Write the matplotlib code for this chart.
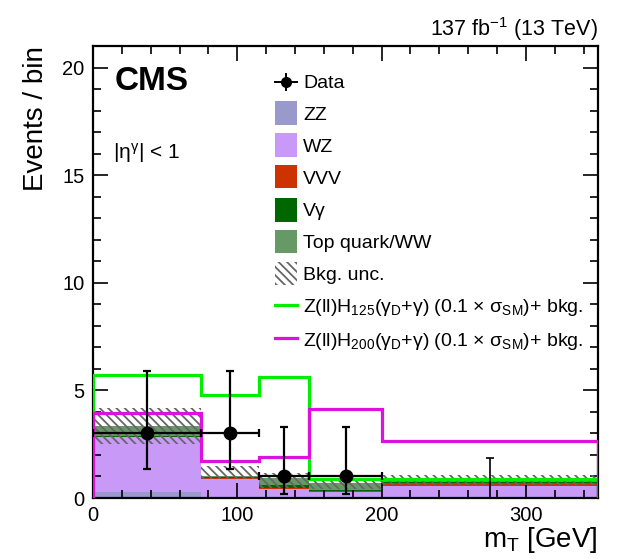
import matplotlib
matplotlib.use("Agg")
import matplotlib.pyplot as plt
import numpy as np
from matplotlib.patches import Rectangle
from matplotlib.lines import Line2D

plt.rcParams['font.family'] = ['Liberation Sans', 'DejaVu Sans']
plt.rcParams['mathtext.fontset'] = 'custom'
plt.rcParams['mathtext.rm'] = 'Liberation Sans'
plt.rcParams['mathtext.it'] = 'Liberation Sans:italic'
plt.rcParams['mathtext.bf'] = 'Liberation Sans:bold'
plt.rcParams['hatch.color'] = '#666666'
plt.rcParams['hatch.linewidth'] = 1.3

# ---- data ----
edges = [0, 75, 115, 150, 200, 350]
zz = [0.28, 0.03, 0.03, 0.03, 0.05]
wz = [2.54, 0.87, 0.37, 0.25, 0.50]
vvv = [0.02, 0.03, 0.08, 0.05, 0.15]
vgamma = [0.05, 0.03, 0.12, 0.02, 0.03]
topww = [0.46, 0.08, 0.35, 0.37, 0.05]
bkg_lo = [2.51, 0.87, 0.48, 0.40, 0.60]
bkg_hi = [4.19, 1.50, 1.18, 0.87, 1.05]
sig125 = [5.70, 4.80, 5.60, 0.90, 0.88]
sig200 = [3.95, 1.72, 1.90, 4.14, 2.63]
data = [3, 3, 1, 1, 0]
data_err_lo = [1.63, 1.63, 0.83, 0.83, 0.0]
data_err_hi = [2.92, 2.92, 2.30, 2.30, 1.84]

bkg_names = ['ZZ', 'WZ', 'VVV', 'V\u03b3', 'Top quark/WW']
bkg_colors = ['#9999cc', '#c999f7', '#cc3300', '#006600', '#669966']
bkg_vals = [zz, wz, vvv, vgamma, topww]

fig = plt.figure(figsize=(6.29, 5.59), dpi=100)
W, H = 629, 559
ax = fig.add_axes([93 / W, 1 - 498 / H, (598 - 93) / W, (498 - 46) / H])

edges_a = np.array(edges, float)
centers = 0.5 * (edges_a[:-1] + edges_a[1:])
halfw = 0.5 * (edges_a[1:] - edges_a[:-1])

bottom = np.zeros(len(zz))
for vals, col in zip(bkg_vals, bkg_colors):
    v = np.array(vals)
    ax.stairs(bottom + v, edges, baseline=bottom.copy(), fill=True,
              facecolor=col, edgecolor='none', zorder=1)
    bottom = bottom + v

HATCH = '\\\\\\\\'
ax.stairs(bkg_hi, edges, baseline=bkg_lo, fill=True, facecolor='none',
          edgecolor='#666666', linewidth=0, hatch=HATCH, zorder=2)

ax.stairs(sig125, edges, baseline=0, color='#00ee00', linewidth=2.3, zorder=3)
ax.stairs(sig200, edges, baseline=0, color='#dd11dd', linewidth=2.3, zorder=3)

d = np.array(data, float)
mask = d > 0
ax.errorbar(centers[mask], d[mask], xerr=halfw[mask],
            yerr=[np.array(data_err_lo)[mask], np.array(data_err_hi)[mask]],
            fmt='o', color='black', markersize=9, elinewidth=1.6,
            capsize=3, capthick=1.6, zorder=5)
# empty bins: only upper error bar
ax.errorbar(centers[~mask], d[~mask],
            yerr=[np.array(data_err_lo)[~mask], np.array(data_err_hi)[~mask]],
            fmt='none', ecolor='black', elinewidth=1.2, capsize=3,
            capthick=1.2, zorder=5)

ax.set_xlim(0, 350)
ax.set_ylim(0, 21)
ax.set_xticks([0, 100, 200, 300])
ax.set_xticks(np.arange(0, 351, 20), minor=True)
ax.set_yticks([0, 5, 10, 15, 20])
ax.set_yticks(np.arange(0, 21, 1), minor=True)
ax.tick_params(which='both', direction='in', top=True, right=True,
               width=1.2, labelsize=14.5)
ax.tick_params(which='major', length=11)
ax.tick_params(which='minor', length=5.5)
ax.tick_params(axis='x', pad=6)
ax.tick_params(axis='y', pad=6)
for s in ax.spines.values():
    s.set_linewidth(1.6)

ax.set_xlabel('m$_{\\mathregular{T}}$ [GeV]', fontsize=20, loc='right', labelpad=0)
ax.set_ylabel('Events / bin', fontsize=20, loc='top', labelpad=10)

fig.text(598 / W, 1 - 29 / H, '137 fb$^{\\mathregular{-1}}$ (13 TeV)',
         fontsize=15.5, ha='right', va='center')
fig.text(115 / W, 1 - 82 / H, 'CMS',
         fontsize=24, fontweight='bold', ha='left', va='center')
fig.text(113 / W, 1 - 153 / H, '|\u03b7$^{\\mathregular{\u03b3}}$| < 1',
         fontsize=15, ha='left', va='center')

# ---- legend (manual) ----
leg_fs = 14
box_x0, box_w, box_h = 275, 22, 23
text_x = 303
rows = [82, 113, 145, 177, 210, 242, 273, 305, 338]
labels = ['Data'] + bkg_names + ['Bkg. unc.',
          'Z(ll)H$_{\\mathregular{125}}$(\u03b3$_{\\mathregular{D}}$+\u03b3) (0.1 \u00d7 \u03c3$_{\\mathregular{SM}}$)+ bkg.',
          'Z(ll)H$_{\\mathregular{200}}$(\u03b3$_{\\mathregular{D}}$+\u03b3) (0.1 \u00d7 \u03c3$_{\\mathregular{SM}}$)+ bkg.']
tf = fig.transFigure
for i, (yy, lab) in enumerate(zip(rows, labels)):
    yc = 1 - yy / H
    fig.text(text_x / W, yc, lab, fontsize=leg_fs, ha='left', va='center_baseline')
    if i == 0:
        xc = (box_x0 + box_w / 2) / W
        fig.add_artist(Line2D([box_x0 / W, (box_x0 + box_w) / W], [yc, yc],
                              color='black', lw=1.4, transform=tf))
        fig.add_artist(Line2D([xc, xc], [yc - 8 / H, yc + 8 / H],
                              color='black', lw=1.4, transform=tf))
        fig.add_artist(Line2D([xc], [yc], marker='o', markersize=7,
                              color='black', transform=tf))
    elif 1 <= i <= 5:
        fig.add_artist(Rectangle((box_x0 / W, yc - box_h / 2 / H), box_w / W, box_h / H,
                                 facecolor=bkg_colors[i - 1], edgecolor='none',
                                 transform=tf))
    elif i == 6:
        fig.add_artist(Rectangle((box_x0 / W, yc - box_h / 2 / H), box_w / W, box_h / H,
                                 facecolor='none', edgecolor='#666666', linewidth=0,
                                 hatch=HATCH, transform=tf))
    else:
        col = '#00ee00' if i == 7 else '#dd11dd'
        fig.add_artist(Line2D([box_x0 / W, (box_x0 + box_w) / W], [yc, yc],
                              color=col, lw=2.3, transform=tf))

fig.savefig('out.png', dpi=100)
